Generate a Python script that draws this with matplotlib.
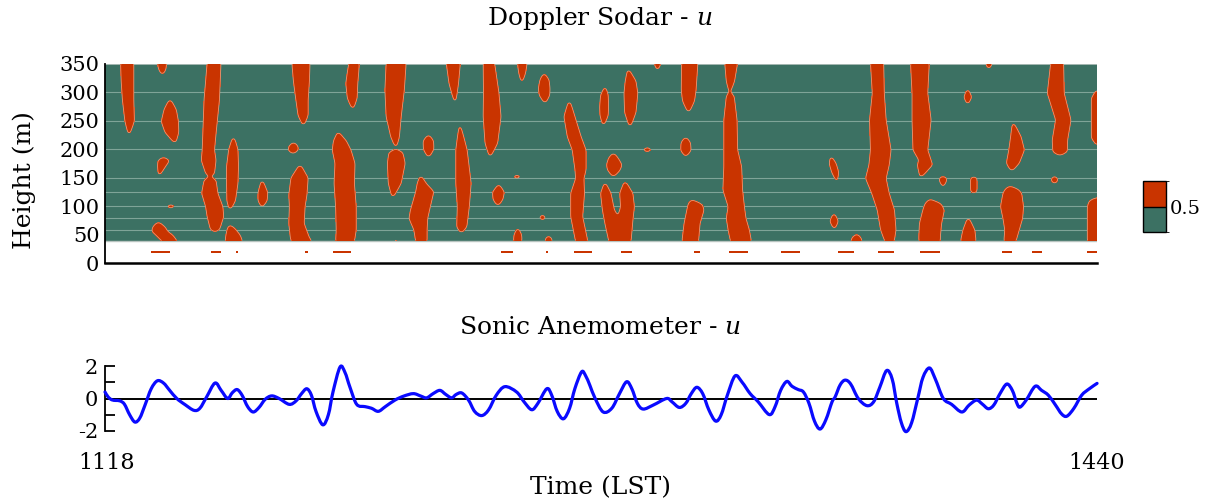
import numpy as np
import matplotlib
matplotlib.use("Agg")
import matplotlib.pyplot as plt
from matplotlib.colors import ListedColormap, BoundaryNorm
import matplotlib.colorbar as mcolorbar
from matplotlib.path import Path
from matplotlib.patches import PathPatch

plt.rcParams['font.family'] = ['DejaVu Serif']
plt.rcParams['mathtext.fontset'] = 'custom'
plt.rcParams['mathtext.it'] = 'DejaVu Serif:italic'
plt.rcParams['mathtext.rm'] = 'DejaVu Serif'

# ---------------- Sonic anemometer u (time LST minutes, m/s) ----------------
sonic_t = [1118.0, 1119.0, 1120.2, 1121.5, 1122.9, 1124.3, 1126.0, 1127.7, 1129.3, 1131.0,
           1133.0, 1135.0, 1137.0, 1139.0, 1141.3, 1144.0, 1146.9, 1148.8, 1151.0, 1153.7,
           1155.7, 1157.8, 1159.3, 1160.9, 1162.5, 1164.3, 1166.1, 1168.0, 1170.0, 1172.1,
           1174.5, 1177.8, 1180.0, 1181.8, 1183.5, 1185.0, 1186.5, 1188.7, 1190.5, 1192.0,
           1194.3, 1195.9, 1197.5, 1199.7, 1202.4, 1204.5, 1206.7, 1209.0, 1212.1, 1215.0,
           1218.1, 1220.5, 1222.4, 1224.5, 1226.7, 1228.6, 1230.5, 1232.0, 1233.8, 1236.0,
           1238.0, 1240.3, 1242.5, 1245.0, 1247.8, 1251.6, 1254.0, 1256.5, 1258.5, 1261.4,
           1263.0, 1264.8, 1266.8, 1268.8, 1270.5, 1272.7, 1274.0, 1275.4, 1277.1, 1279.7,
           1282.5, 1285.0, 1287.3, 1289.0, 1290.8, 1292.7, 1296.0, 1300.3, 1302.0, 1304.4,
           1306.5, 1308.3, 1310.1, 1312.0, 1314.0, 1316.2, 1318.0, 1320.0, 1322.5, 1324.8,
           1327.4, 1330.0, 1333.6, 1335.5, 1337.3, 1339.3, 1341.0, 1343.0, 1344.7, 1346.5,
           1348.3, 1350.1, 1352.0, 1354.0, 1355.0, 1356.6, 1358.2, 1360.0, 1362.5, 1365.3,
           1367.5, 1369.5, 1371.7, 1373.5, 1375.0, 1376.5, 1378.0, 1379.8, 1381.8, 1383.5,
           1385.6, 1387.5, 1390.1, 1392.8, 1396.1, 1398.5, 1400.9, 1402.8, 1404.7, 1406.5,
           1408.5, 1410.7, 1412.5, 1414.0, 1415.0, 1417.0, 1419.9, 1422.0, 1424.2, 1426.5,
           1428.5, 1430.2, 1432.5, 1435.0, 1437.5, 1440.0]
sonic_u = [0.40, 0.10, -0.08, -0.12, -0.15, -0.35, -1.0, -1.45, -1.2, -0.4,
           0.6, 1.09, 0.95, 0.5, 0.0, -0.38, -0.73, -0.6, 0.1, 0.95,
           0.5, 0.0, 0.35, 0.55, 0.2, -0.5, -0.83, -0.55, -0.05, 0.16,
           0.0, -0.36, -0.15, 0.3, 0.6, 0.2, -0.8, -1.62, -1.0, 0.4,
           1.94, 1.6, 0.7, -0.36, -0.5, -0.6, -0.79, -0.5, -0.1, 0.15,
           0.30, 0.15, 0.04, 0.3, 0.50, 0.25, 0.04, 0.25, 0.34, -0.1,
           -0.8, -1.05, -0.7, 0.2, 0.73, 0.40, -0.2, -0.69, -0.3, 0.6,
           0.2, -0.8, -1.25, -0.6, 0.6, 1.64, 1.4, 0.8, 0.0, -0.83,
           -0.6, 0.3, 1.03, 0.6, -0.3, -0.65, -0.4, 0.0, -0.2, -0.55,
           -0.3, 0.3, 0.69, 0.3, -0.7, -1.39, -1.0, 0.2, 1.39, 1.0,
           0.3, -0.2, -0.99, -0.5, 0.5, 1.05, 0.75, 0.55, 0.40, -0.3,
           -1.4, -1.88, -1.3, -0.2, 0.1, 0.83, 1.13, 0.9, 0.0, -0.44,
           -0.2, 0.7, 1.72, 1.2, -0.3, -1.5, -2.04, -1.5, 0.0, 1.3,
           1.88, 1.2, 0.0, -0.36, -0.83, -0.4, -0.10, -0.35, -0.63, -0.4,
           0.3, 0.89, 0.5, -0.3, -0.53, -0.1, 0.75, 0.5, 0.20, -0.4,
           -0.95, -1.09, -0.6, 0.2, 0.6, 0.93]

# ---------------- Doppler sodar u > 0.5 regions: (height m, t_left, t_right) ----------------
blob_a1 = [(227, 1125.8, 1125.8), (250, 1124.8, 1127.2), (287, 1124.0, 1127.0), (320, 1123.6, 1127.0), (352, 1123.4, 1127.0)]
blob_a2 = [(332, 1136.6, 1136.6), (340, 1135.8, 1137.4), (352, 1135.3, 1137.7)]
blob_a3 = [(212, 1140.7, 1140.7), (230, 1137.8, 1141.6), (249, 1136.6, 1141.5), (270, 1137.5, 1140.8), (287, 1139.1, 1139.1)]
blob_a4 = [(155, 1135.6, 1135.6), (170, 1135.4, 1137.3), (180, 1135.5, 1138.6), (185, 1136.5, 1137.5)]
blob_a5 = [(97, 1139.3, 1139.3), (100, 1138.2, 1140.7), (103, 1139.3, 1139.3)]
blob_a6 = [(38, 1137.0, 1141.3), (50, 1134.8, 1139.6), (56, 1133.5, 1138.0), (64, 1133.8, 1137.2), (72, 1135.3, 1135.3)]
blob_a7 = [(152, 1152.1, 1152.1), (158, 1151.0, 1153.2), (181, 1149.6, 1153.7), (199, 1149.9, 1153.2), (228, 1150.1, 1153.7), (287, 1150.5, 1154.8), (352, 1151.5, 1155.3)]
blob_a7b = [(55.6, 1153.7, 1153.7), (58.5, 1152.6, 1154.8), (82, 1151.5, 1156.2), (99.5, 1151.0, 1155.9), (123, 1149.7, 1154.3), (146, 1150.5, 1153.7), (152, 1152.1, 1152.1)]
blob_a8 = [(38, 1157.3, 1162.4), (50, 1157.6, 1161.5), (60, 1158.0, 1160.0), (67, 1158.6, 1158.6)]
blob_a9 = [(95, 1158.6, 1158.6), (110, 1157.9, 1160.0), (140, 1157.8, 1160.8), (170, 1157.8, 1161.0), (200, 1158.5, 1160.8), (221, 1159.7, 1159.7)]
blob_a10 = [(99.5, 1169.0, 1169.0), (110, 1168.0, 1170.3), (124, 1168.0, 1170.5), (145, 1169.0, 1169.0)]
blob_a11 = [(298, 1170.5, 1170.5), (300.5, 1170.0, 1171.0), (303, 1170.5, 1170.5)]
blob_a12 = [(193, 1179.0, 1179.0), (198, 1177.8, 1180.4), (206, 1178.0, 1180.3), (212, 1179.2, 1179.2)]
blob_a13 = [(38, 1178.8, 1185.0), (45, 1178.5, 1184.0), (70, 1178.0, 1182.3), (100, 1178.2, 1182.6), (120, 1178.0, 1183.2), (150, 1178.7, 1183.6), (172, 1181.3, 1181.3)]
blob_a14 = [(243, 1182.4, 1182.4), (260, 1181.0, 1183.6), (287, 1180.3, 1183.6), (320, 1179.5, 1184.0), (352, 1179.0, 1184.2)]
blob_b1 = [(272, 1198.4, 1198.4), (290, 1197.0, 1199.5), (316, 1196.5, 1199.7), (335, 1197.0, 1200.0), (352, 1197.5, 1200.2)]
blob_b2 = [(205, 1212.4, 1212.4), (222, 1211.1, 1213.2), (257.5, 1209.6, 1213.8), (304, 1209.2, 1214.8), (352, 1209.6, 1215.4)]
blob_b3 = [(284, 1231.6, 1231.6), (316, 1230.0, 1232.4), (352, 1229.1, 1233.0)]
blob_b4 = [(188.5, 1243.0, 1243.0), (211, 1241.7, 1245.1), (257.5, 1241.1, 1246.2), (300, 1241.2, 1245.5), (352, 1241.1, 1244.1)]
blob_b5 = [(319, 1253.3, 1253.3), (335, 1252.6, 1254.2), (352, 1252.2, 1254.7)]
blob_b6 = [(282, 1260.8, 1260.8), (295, 1259.3, 1262.0), (307, 1259.0, 1262.1), (322, 1259.5, 1261.8), (332.5, 1260.5, 1260.5)]
blob_b7 = [(241, 1288.4, 1288.4), (265, 1287.0, 1290.0), (298.5, 1286.8, 1290.6), (320, 1287.2, 1290.0), (339.5, 1287.9, 1287.9)]
blob_b8 = [(243, 1279.8, 1279.8), (260, 1279.0, 1281.0), (275, 1278.9, 1281.1), (295, 1279.2, 1281.0), (309, 1280.3, 1280.3)]
blob_b9 = [(340, 1297.3, 1297.3), (352, 1296.5, 1298.2)]
blob_b10 = [(266, 1307.4, 1307.4), (285, 1305.8, 1309.0), (304, 1305.4, 1309.5), (352, 1305.5, 1310.1)]
blob_b11 = [(188.5, 1306.5, 1306.5), (198, 1305.2, 1307.9), (212, 1305.3, 1307.7), (221, 1306.5, 1306.5)]
blob_b12 = [(196, 1294.0, 1294.0), (200, 1292.7, 1295.4), (203, 1294.0, 1294.0)]
blob_b13 = [(38, 1193.2, 1198.6), (58.5, 1193.4, 1199.2), (99.5, 1193.2, 1199.2), (140.5, 1192.7, 1198.6), (175.6, 1193.0, 1198.8), (199, 1192.1, 1197.5), (215, 1192.5, 1196.0), (229.5, 1193.7, 1193.7)]
blob_b14 = [(117, 1211.4, 1211.4), (140.5, 1210.3, 1213.8), (175.6, 1210.0, 1215.1), (195, 1210.5, 1214.3), (200, 1212.4, 1212.4)]
blob_b15 = [(187, 1223.0, 1223.0), (200, 1221.7, 1224.4), (215, 1221.6, 1224.3), (225, 1223.0, 1223.0)]
blob_b16 = [(38, 1219.2, 1222.2), (58.5, 1218.6, 1222.2), (79, 1217.0, 1222.4), (93.6, 1217.5, 1223.0), (126, 1219.2, 1224.4), (140.5, 1219.7, 1221.9), (153, 1220.5, 1220.5)]
blob_b17 = [(54, 1233.6, 1233.6), (64, 1232.5, 1235.1), (99.5, 1232.7, 1235.9), (140.5, 1232.2, 1236.5), (199, 1232.2, 1235.2), (241, 1233.2, 1233.2)]
blob_b18 = [(102, 1245.5, 1245.5), (112, 1244.3, 1246.8), (125, 1244.1, 1247.3), (137.5, 1245.8, 1245.8)]
blob_b19 = [(149, 1251.7, 1251.7), (152, 1250.6, 1252.8), (155, 1251.7, 1251.7)]
blob_b20 = [(38, 1250.9, 1253.0), (50, 1251.1, 1252.9), (61, 1252.0, 1252.0)]
blob_b21 = [(122, 1260.6, 1260.6), (124, 1260.1, 1261.1), (126, 1260.6, 1260.6)]
blob_b22 = [(76, 1260.0, 1260.0), (80.5, 1259.2, 1260.8), (85, 1260.0, 1260.0)]
blob_b23 = [(77, 1208.6, 1208.6), (79, 1208.0, 1209.3), (81, 1208.6, 1208.6)]
blob_b24 = [(38, 1261.0, 1263.0), (44, 1261.4, 1262.6), (48, 1262.0, 1262.0)]
blob_b25 = [(38, 1211.6, 1213.2), (42, 1212.4, 1212.4)]
blob_b26 = [(38, 1271.1, 1274.4), (82, 1269.5, 1272.7), (123, 1269.5, 1273.3), (149, 1271.1, 1273.1), (164, 1270.9, 1273.8), (199, 1270.0, 1273.8), (222.4, 1268.4, 1272.2), (257.5, 1267.3, 1270.2), (284, 1268.7, 1268.7)]
blob_b27 = [(153, 1283.0, 1283.0), (163, 1281.5, 1284.8), (173, 1281.1, 1285.5), (185, 1281.8, 1284.2), (193, 1283.0, 1283.0)]
blob_b28 = [(38, 1281.9, 1287.0), (70, 1280.6, 1285.2), (93.6, 1279.8, 1283.0), (123, 1279.2, 1281.9), (140.5, 1280.3, 1280.3)]
blob_b29 = [(38, 1283.0, 1288.4), (76, 1284.6, 1289.0), (99.5, 1285.7, 1289.5), (123, 1285.4, 1289.0), (143, 1286.8, 1286.8)]
blob_b30 = [(38, 1305.6, 1310.3), (70, 1306.3, 1310.8), (93.6, 1307.2, 1312.1), (104, 1307.6, 1311.5), (111, 1308.5, 1308.5)]
blob_c1 = [(301.4, 1320.8, 1320.8), (320, 1320.0, 1322.0), (352, 1319.5, 1323.0)]
blob_c1b = [(38, 1321.4, 1327.5), (58.5, 1320.6, 1326.8), (79, 1320.0, 1325.7), (99.5, 1320.6, 1325.2), (128.8, 1318.9, 1324.6), (169.7, 1319.2, 1324.3), (199, 1319.2, 1323.0), (251.7, 1319.2, 1322.8), (292.6, 1320.0, 1321.9), (301.4, 1320.8, 1320.8)]
blob_c2 = [(38, 1371.5, 1373.8), (58.5, 1370.1, 1374.4), (93.6, 1369.0, 1373.9), (123, 1367.2, 1372.2), (149, 1365.2, 1371.2), (172.7, 1366.3, 1372.2), (199, 1366.8, 1372.8), (251.7, 1366.5, 1371.2), (298.5, 1367.4, 1370.6), (352, 1366.8, 1370.4)]
blob_c3 = [(152, 1382.8, 1382.8), (172.7, 1382.0, 1386.3), (181, 1382.5, 1385.8), (199, 1380.6, 1384.7), (251.7, 1380.3, 1385.8), (298.5, 1380.3, 1384.7), (352, 1379.8, 1385.2)]
blob_c4 = [(38, 1382.5, 1388.8), (47, 1382.5, 1388.8), (70, 1382.7, 1389.2), (93.6, 1383.8, 1390.1), (105, 1384.5, 1389.0), (112, 1385.8, 1385.8)]
blob_c5 = [(38, 1396.0, 1400.4), (58.5, 1396.8, 1400.0), (79, 1398.2, 1398.2)]
blob_c6 = [(38, 1410.1, 1413.3), (58.5, 1410.4, 1414.4), (79, 1409.8, 1415.5), (99.5, 1409.0, 1415.8), (123, 1409.8, 1415.2), (131, 1410.6, 1413.9), (134.6, 1411.7, 1411.7)]
blob_c7 = [(162.7, 1412.3, 1412.3), (175.6, 1410.9, 1414.4), (199, 1411.7, 1416.1), (222.4, 1412.3, 1415.0), (245.8, 1412.8, 1412.8)]
blob_c8 = [(190.2, 1427.9, 1427.9), (195, 1426.0, 1430.0), (216.6, 1425.8, 1430.1), (251.7, 1426.9, 1431.2), (298.5, 1424.2, 1429.0), (352, 1425.3, 1428.8)]
blob_c9 = [(38, 1437.2, 1442.0), (99.5, 1437.2, 1442.0), (110, 1437.8, 1442.0), (114, 1439.5, 1442.0)]
blob_c10 = [(208, 1440.0, 1440.0), (220, 1438.5, 1442.0), (290, 1438.5, 1442.0), (304, 1440.0, 1440.0)]
blob_c11 = [(280, 1398.0, 1398.0), (292, 1397.1, 1399.0), (305, 1398.0, 1398.0)]
blob_c12 = [(145, 1355.5, 1355.5), (160, 1354.2, 1355.8), (175, 1353.4, 1355.0), (187, 1353.7, 1353.7)]
blob_c13 = [(61, 1354.7, 1354.7), (74, 1353.6, 1355.7), (87, 1354.6, 1354.6)]
blob_c14 = [(38, 1360.3, 1363.6), (45, 1360.8, 1363.0), (51, 1362.0, 1362.0)]
blob_c15 = [(135, 1390.0, 1390.0), (147, 1389.0, 1391.0), (152, 1389.5, 1390.5)]
blob_c16 = [(123, 1400.0, 1400.0), (126, 1399.3, 1400.7), (150, 1399.3, 1400.7), (152, 1400.0, 1400.0)]
blob_c17 = [(342, 1404.9, 1404.9), (352, 1404.0, 1405.8)]
blob_c18 = [(140, 1426.2, 1426.2), (147, 1425.3, 1427.1), (153, 1426.2, 1426.2)]

blobs = [blob_a1, blob_a2, blob_a3, blob_a4, blob_a5, blob_a6, blob_a7, blob_a7b, blob_a8, blob_a9,
         blob_a10, blob_a11, blob_a12, blob_a13, blob_a14,
         blob_b1, blob_b2, blob_b3, blob_b4, blob_b5, blob_b6, blob_b7, blob_b8, blob_b9, blob_b10,
         blob_b11, blob_b12, blob_b13, blob_b14, blob_b15, blob_b16, blob_b17, blob_b18, blob_b19,
         blob_b20, blob_b21, blob_b22, blob_b23, blob_b24, blob_b25, blob_b26, blob_b27, blob_b28,
         blob_b29, blob_b30,
         blob_c1, blob_c1b, blob_c2, blob_c3, blob_c4, blob_c5, blob_c6, blob_c7, blob_c8, blob_c9,
         blob_c10, blob_c11, blob_c12, blob_c13, blob_c14, blob_c15, blob_c16, blob_c17, blob_c18]

threshold = 0.5
t_start, t_end = 1118, 1440
sodar_bottom, sodar_top = 40, 350
mesh_heights = [58, 79, 100, 125, 150, 200, 250, 300]

RED = '#C93400'
GREEN = '#3C7163'
EDGE = '#E79A78'
MESH = '#7FA498'

# ---- build the u-field on a grid from the read boundaries ----
dt, dh = 0.2, 1.0
tg = np.arange(t_start - 2, t_end + 2.01, dt)
hg = np.arange(sodar_bottom - 4, sodar_top + 4.01, dh)
TT, HH = np.meshgrid(tg, hg)
Z = np.zeros_like(TT)
for b in blobs:
    arr = np.array(b, dtype=float)
    hb, lb, rb = arr[:, 0], arr[:, 1], arr[:, 2]
    for i, h in enumerate(hg):
        if h < hb.min() - 1.5 or h > hb.max() + 1.5:
            continue
        hc = np.clip(h, hb.min(), hb.max())
        L = np.interp(hc, hb, lb)
        R = np.interp(hc, hb, rb)
        c = 0.5 * (L + R)
        w = 0.5 * (R - L) + 0.35
        val = np.clip(threshold + 0.3 * (w - np.abs(tg - c)), 0, 1)
        Z[i] = np.maximum(Z[i], val)


def smooth(a, sig, axis):
    n = int(3 * sig) + 1
    k = np.exp(-0.5 * (np.arange(-n, n + 1) / sig) ** 2)
    k /= k.sum()
    pad = [(0, 0), (0, 0)]
    pad[axis] = (n, n)
    ap = np.pad(a, pad, mode='edge')
    return np.apply_along_axis(lambda v: np.convolve(v, k, mode='valid'), axis, ap)


Z = smooth(Z, 2.5, 1)   # along time
Z = smooth(Z, 2.5, 0)   # along height
mask = (hg >= sodar_bottom) & (hg <= sodar_top)
TT, HH, Z = TT[mask], HH[mask], Z[mask]

fig = plt.figure(figsize=(12.11, 5.03), dpi=100)

# ---------------- top panel ----------------
ax1 = fig.add_axes([0.0867, 0.4765, 0.8192, 0.3963])
ax1.set_xlim(t_start, t_end)
ax1.set_ylim(0, 350)
ax1.axhspan(sodar_bottom, sodar_top, color=GREEN, zorder=0, lw=0)
for mh in mesh_heights:
    ax1.axhline(mh, color=MESH, lw=0.8, zorder=1)
ax1.axhline(sodar_top, color='#b8c4c0', lw=1.2, zorder=1)
ax1.axhline(sodar_bottom, color='#b8c4c0', lw=1.0, zorder=1)
ax1.contourf(TT, HH, Z, levels=[threshold, 2], colors=[RED], zorder=2)
ax1.contour(TT, HH, Z, levels=[threshold], colors=[EDGE], linewidths=0.6, zorder=3)

# surface (sonic) u > 0.5 marks at ~20 m
st = np.array(sonic_t)
su = np.array(sonic_u)
ax1.contourf(st, [17.5, 21.5], np.vstack([su, su]), levels=[threshold, 10], colors=[RED], zorder=2)

for s in ['top', 'right']:
    ax1.spines[s].set_visible(False)
ax1.spines['left'].set_linewidth(1.3)
ax1.spines['bottom'].set_linewidth(1.8)
ax1.set_xticks([])
ax1.set_yticks(np.arange(0, 351, 50))
ax1.tick_params(axis='y', length=0, pad=4, labelsize=15)

fig.text(24 / 1211, 1 - 180 / 503, 'Height (m)', rotation=90, ha='center', va='center', fontsize=18)
fig.text(600 / 1211, 1 - 18 / 503, r'Doppler Sodar - $\it{u}$', ha='center', va='center', fontsize=18)

# legend (colour key)
cax = fig.add_axes([1143 / 1211, 1 - 232 / 503, 23 / 1211, 51 / 503])
cmap = ListedColormap([GREEN, RED])
norm = BoundaryNorm([0, threshold, 1], cmap.N)
cb = mcolorbar.ColorbarBase(cax, cmap=cmap, norm=norm, boundaries=[0, threshold, 1],
                            ticks=[threshold], drawedges=True)
cb.ax.set_yticklabels(['0.5'])
cb.ax.tick_params(length=0, labelsize=14, pad=3)
cb.outline.set_linewidth(1.0)
cb.dividers.set_color('black')
cb.dividers.set_linewidth(1.0)

# ---------------- bottom panel ----------------
ax2 = fig.add_axes([0.0867, 1 - 431 / 503, 0.8192, 65 / 503])
ax2.set_xlim(t_start, t_end)
ax2.set_ylim(-2, 2)

# smooth curve through the read points (Catmull-Rom as cubic Bezier segments)
pts = np.column_stack([st, su])
ext = np.vstack([pts[0], pts, pts[-1]])
verts = [tuple(pts[0])]
codes = [Path.MOVETO]
for i in range(len(pts) - 1):
    p0, p1, p2, p3 = ext[i], ext[i + 1], ext[i + 2], ext[i + 3]
    c1 = p1 + (p2 - p0) / 6.0
    c2 = p2 - (p3 - p1) / 6.0
    verts += [tuple(c1), tuple(c2), tuple(p2)]
    codes += [Path.CURVE4, Path.CURVE4, Path.CURVE4]
ax2.add_patch(PathPatch(Path(verts, codes), facecolor='none', edgecolor='#0a0aff',
                        lw=2.3, clip_on=False, zorder=3, capstyle='round', joinstyle='round'))
ax2.axhline(0, color='black', lw=1.4, zorder=2)
for s in ['top', 'right', 'bottom']:
    ax2.spines[s].set_visible(False)
ax2.spines['left'].set_linewidth(1.3)
ax2.set_xticks([])
ax2.set_yticks([-2, 0, 2])
ax2.set_yticks([-1, 1], minor=True)
ax2.tick_params(axis='y', which='both', direction='in', length=7, width=1.3, labelsize=15, pad=5)
ax2.set_yticklabels(['-2', '0', '2'])

fig.text(600 / 1211, 1 - 328 / 503, r'Sonic Anemometer - $\it{u}$', ha='center', va='center', fontsize=18)
fig.text(107 / 1211, 1 - 463 / 503, str(t_start), ha='center', va='center', fontsize=16)
fig.text(1097 / 1211, 1 - 463 / 503, str(t_end), ha='center', va='center', fontsize=16)
fig.text(600 / 1211, 1 - 488 / 503, 'Time (LST)', ha='center', va='center', fontsize=18)

fig.savefig('out.png', dpi=100)
